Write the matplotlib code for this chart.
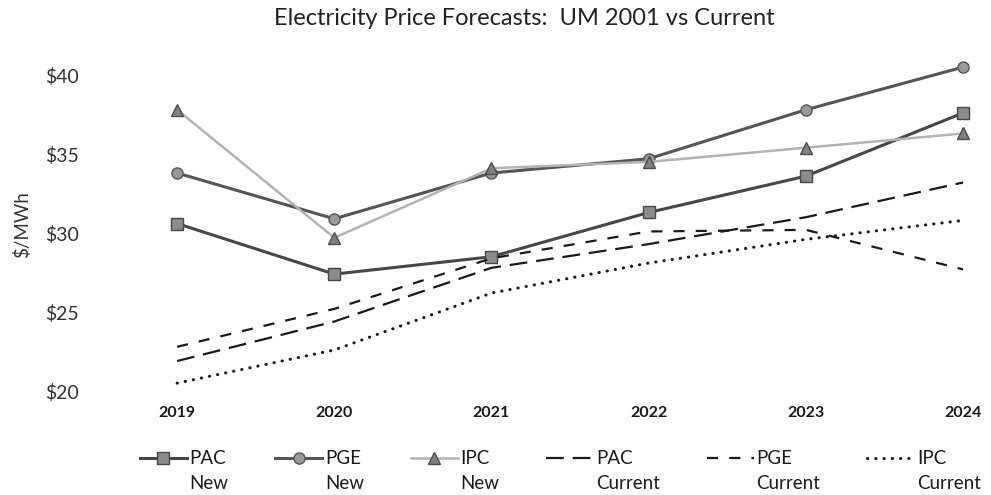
import matplotlib
matplotlib.use("Agg")
import matplotlib.pyplot as plt

plt.rcParams['font.family'] = ['Lato', 'DejaVu Sans']

# forecast years
years = ['2019', '2020', '2021', '2022', '2023', '2024']

# $/MWh
pac_new = [30.6, 27.4, 28.5, 31.3, 33.6, 37.6]
pge_new = [33.8, 30.9, 33.8, 34.7, 37.8, 40.5]
ipc_new = [37.8, 29.7, 34.1, 34.5, 35.4, 36.3]
pac_cur = [21.9, 24.4, 27.8, 29.3, 31.0, 33.2]
pge_cur = [22.8, 25.2, 28.4, 30.1, 30.2, 27.7]
ipc_cur = [20.5, 22.6, 26.2, 28.1, 29.6, 30.8]

yticks = [20, 25, 30, 35, 40]

x = list(range(len(years)))

fig = plt.figure(figsize=(9.91, 4.95), dpi=100)
ax = fig.add_axes([0.091, 0.202, 0.903, 0.687])

ax.plot(x, pac_new, color='#474747', lw=2.2, marker='s', ms=8,
        mfc='#8c8c8c', mec='#474747', label='PAC\nNew')
ax.plot(x, pge_new, color='#555555', lw=2.2, marker='o', ms=8,
        mfc='#999999', mec='#555555', label='PGE\nNew')
ax.plot(x, ipc_new, color='#b3b3b3', lw=1.8, marker='^', ms=8,
        mfc='#808080', mec='#4d4d4d', label='IPC\nNew')
ax.plot(x, pac_cur, color='#1a1a1a', lw=1.6, dashes=(8, 4), label='PAC\nCurrent')
ax.plot(x, pge_cur, color='#1a1a1a', lw=1.6, dashes=(5, 5), label='PGE\nCurrent')
ax.plot(x, ipc_cur, color='#1a1a1a', lw=2.2, dashes=(0.1, 2.6),
        dash_capstyle='round', label='IPC\nCurrent')

ax.set_xlim(-0.553, 5.14)
ax.set_ylim(19.75, 41.27)
ax.set_xticks(x)
ax.set_xticklabels(years, fontsize=11.5, fontweight='bold', color='#1a1a1a')
ax.set_yticks(yticks)
ax.set_yticklabels(['$%d' % v for v in yticks], fontsize=14, color='#333333')
ax.tick_params(axis='both', length=0)
ax.tick_params(axis='x', pad=8)
ax.tick_params(axis='y', pad=8)
for s in ax.spines.values():
    s.set_visible(False)

ax.set_ylabel('$/MWh', fontsize=13.5, color='#333333', labelpad=10)

fig.text(0.529, 0.962, 'Electricity Price Forecasts:  UM 2001 vs Current',
         ha='center', va='center', fontsize=17, color='#222222')

leg = fig.legend(loc='upper left', bbox_to_anchor=(0.141, 0.090), ncol=6,
                 frameon=False, fontsize=13.5, handlelength=2.5,
                 handletextpad=0.15, columnspacing=2.5, handleheight=1.1,
                 borderpad=0, borderaxespad=0)
for t in leg.get_texts():
    t.set_linespacing(1.55)
    t.set_color('#1a1a1a')
# put the handle next to the first line of each two-line label
for col in leg._legend_handle_box.get_children():
    for row in col.get_children():
        row.align = 'top'

fig.savefig('out.png', dpi=100)
